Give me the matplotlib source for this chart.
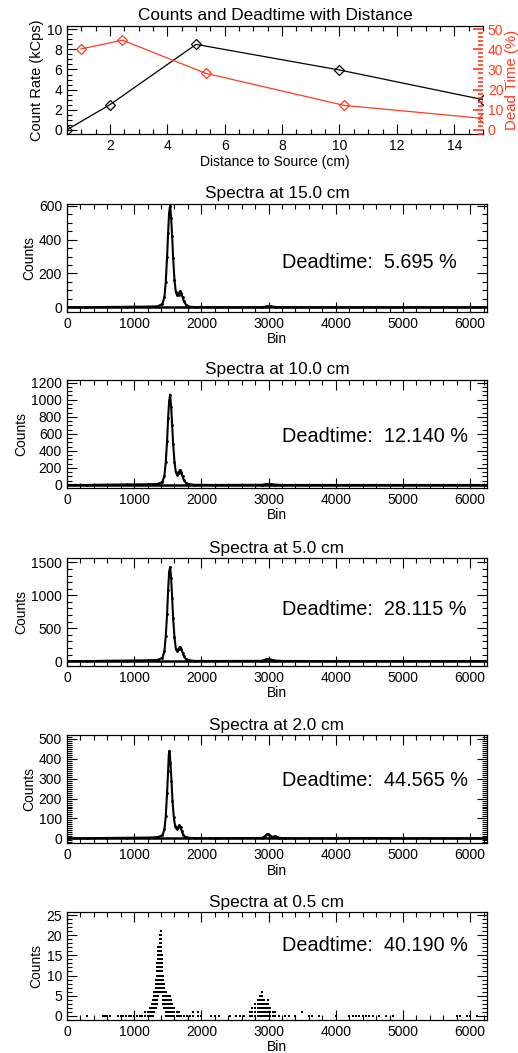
import numpy as np
import matplotlib
matplotlib.use("Agg")
import matplotlib.pyplot as plt
from matplotlib.ticker import MultipleLocator, AutoMinorLocator

plt.rcParams['font.family'] = ['Liberation Sans', 'DejaVu Sans']
plt.rcParams['font.size'] = 10

RED = '#ff3b1f'

# count rate / deadtime vs distance
dist = [0.5, 2.0, 5.0, 10.0, 15.0]
rate_kcps = [0.0, 2.5, 8.5, 5.95, 3.0]
deadtime = [40.190, 44.565, 28.115, 12.140, 5.695]

# spectra (bin, counts)
bins_15 = [0, 300, 600, 900, 1200, 1350, 1420, 1450, 1470, 1490, 1505, 1520, 1535, 1550,
           1565, 1580, 1600, 1620, 1640, 1660, 1680, 1700, 1720, 1740, 1770, 1820, 1900,
           2200, 2900, 2980, 3040, 3100, 3200, 4000, 5000, 6250]
counts_15 = [0, 0, 2, 3, 4, 6, 20, 60, 150, 300, 440, 560, 600, 530,
             420, 290, 160, 90, 70, 75, 95, 85, 60, 35, 15, 4, 1,
             0, 0, 6, 5, 2, 0, 0, 0, 0]

bins_10 = [0, 300, 600, 900, 1200, 1350, 1420, 1450, 1470, 1490, 1505, 1520, 1535, 1550,
           1565, 1580, 1600, 1620, 1640, 1660, 1680, 1700, 1720, 1740, 1770, 1820, 1900,
           2200, 2900, 2980, 3040, 3100, 3200, 4000, 5000, 6250]
counts_10 = [0, 0, 4, 6, 8, 12, 35, 110, 270, 520, 780, 980, 1060, 920,
             700, 480, 270, 150, 120, 140, 175, 150, 100, 55, 25, 8, 2,
             0, 2, 12, 10, 4, 0, 0, 0, 0]

bins_5 = [0, 300, 600, 900, 1200, 1350, 1420, 1450, 1470, 1490, 1505, 1520, 1535, 1550,
          1565, 1580, 1600, 1620, 1640, 1660, 1680, 1700, 1720, 1740, 1770, 1820, 1900,
          2200, 2900, 2960, 3000, 3040, 3100, 3200, 4000, 5000, 6250]
counts_5 = [0, 0, 5, 8, 12, 18, 50, 150, 380, 720, 1080, 1350, 1430, 1260,
            960, 650, 360, 190, 150, 180, 215, 185, 130, 70, 30, 10, 3,
            1, 4, 25, 35, 22, 8, 2, 0, 0, 0]

bins_2 = [0, 300, 600, 900, 1200, 1350, 1420, 1450, 1470, 1490, 1505, 1515, 1525, 1540,
          1555, 1570, 1590, 1610, 1630, 1650, 1670, 1690, 1710, 1730, 1760, 1820, 1900,
          2200, 2900, 2950, 2980, 3010, 3050, 3090, 3120, 3160, 3250, 4000, 4500, 5000, 6250]
counts_2 = [0, 0, 2, 3, 4, 6, 15, 45, 110, 230, 340, 420, 440, 380,
            290, 190, 105, 60, 48, 55, 65, 55, 35, 18, 8, 3, 1,
            0, 2, 12, 22, 18, 8, 10, 8, 3, 0, 0, 2, 0, 0]

# 0.5 cm: sparse integer counts, grouped as (bin, counts seen at that bin)
cols_05 = [
    (300, [0]), (530, [0]), (560, [0]), (600, [0]), (640, [0]), (760, [0]), (800, [0]),
    (840, [0]), (880, [0]), (920, [0]), (960, [0]), (1000, [0]), (1040, [0]), (1080, [0]),
    (1120, [0]), (1160, [0, 1]), (1200, [0, 1]), (1230, [0, 1, 2]), (1260, [0, 1, 2, 3]),
    (1280, [0, 1, 2, 3, 4]), (1300, [1, 2, 3, 4, 5, 6]),
    (1320, [2, 3, 4, 5, 6, 7, 8, 9]),
    (1340, [3, 4, 5, 6, 7, 8, 9, 10, 11, 12, 13]),
    (1360, [5, 6, 7, 8, 9, 10, 11, 12, 13, 14, 15, 16, 17]),
    (1380, [6, 7, 8, 9, 10, 11, 12, 13, 14, 15, 16, 17, 18, 19, 20]),
    (1395, [7, 8, 9, 10, 11, 12, 13, 14, 15, 16, 17, 18, 19, 20, 21]),
    (1410, [6, 7, 8, 9, 10, 11, 12, 13, 14, 15]),
    (1430, [3, 4, 5, 6, 7, 8, 9, 10]),
    (1450, [2, 3, 4, 5, 6, 7, 8]),
    (1470, [0, 1, 2, 3, 4, 5, 6]),
    (1490, [0, 1, 2, 3, 4, 5]), (1510, [0, 1, 2, 3, 4, 5]), (1530, [0, 1, 2, 3, 4, 5]),
    (1550, [0, 1, 2, 3, 4]), (1570, [0, 1, 2, 3]), (1600, [0, 1, 2]), (1630, [0, 1]),
    (1660, [0, 1]), (1700, [0]), (1740, [0]), (1780, [0]), (1830, [0]), (1880, [0, 1]),
    (1950, [0, 1]), (1990, [0]), (2150, [0]), (2200, [0]), (2260, [0]), (2420, [0]),
    (2520, [0]), (2580, [0]), (2640, [0]), (2720, [0, 1]), (2760, [0, 1, 2]),
    (2800, [0, 1, 2, 3]), (2840, [0, 1, 2, 3, 4]), (2870, [0, 1, 2, 3, 4, 5]),
    (2900, [0, 1, 2, 3, 4, 5, 6]), (2930, [0, 1, 2, 3, 4]), (2960, [0, 1, 2, 3]),
    (2990, [0, 1, 2, 3, 4]), (3020, [0, 1, 2]), (3060, [0, 1]), (3100, [0, 1]),
    (3150, [0]), (3250, [0]), (3300, [0]), (3400, [0]), (3500, [1]), (3600, [0]),
    (3650, [0]), (3750, [0]), (4000, [0]), (4200, [0]), (4250, [0]), (4300, [0]),
    (4350, [0]), (4400, [0]), (4450, [0]), (4500, [0]), (4550, [0]), (4650, [0]),
    (4750, [0]), (4850, [0]), (5800, [0]), (5850, [0]), (5950, [0]), (6000, [0]),
    (6100, [0]),
]
bins_05 = [b for b, cs in cols_05 for c in cs]
counts_05 = [c for b, cs in cols_05 for c in cs]

spectra = [
    ('15.0', bins_15, counts_15, '5.695', (-26, 612), 200, 4),
    ('10.0', bins_10, counts_10, '12.140', (-35, 1231), 200, 4),
    ('5.0', bins_5, counts_5, '28.115', (-75, 1566), 500, 5),
    ('2.0', bins_2, counts_2, '44.565', (-25, 517), 100, 10),
    ('0.5', bins_05, counts_05, '40.190', (-1.1, 25.8), 5, 5),
]
text_y = [0.452, 0.475, 0.524, 0.58, 0.687]


def idl_ticks(ax):
    ax.tick_params(which='both', direction='in', top=True, right=True, width=0.8)
    ax.tick_params(which='major', length=7)
    ax.tick_params(which='minor', length=3.5)
    for s in ax.spines.values():
        s.set_linewidth(0.9)


fig = plt.figure(figsize=(5.18, 10.53), dpi=100)
left, width, height = 0.1293, 0.8108, 0.1025

# ---- top panel: count rate and deadtime ----
ax0 = fig.add_axes([left, 0.8723, 0.803, 0.1030])
ax0.plot(dist, rate_kcps, color='black', lw=0.9, marker='D', ms=5, mfc='none', mew=0.9)
ax0.set_xlim(0.5, 15)
ax0.set_ylim(-0.47, 10.33)
ax0.xaxis.set_major_locator(MultipleLocator(2))
ax0.xaxis.set_minor_locator(AutoMinorLocator(4))
ax0.yaxis.set_major_locator(MultipleLocator(2))
ax0.yaxis.set_minor_locator(AutoMinorLocator(4))
idl_ticks(ax0)
ax0.tick_params(which='both', right=False)
ax0.set_xlabel('Distance to Source (cm)', labelpad=1)
ax0.set_ylabel('Count Rate (kCps)', labelpad=2, fontsize=10.5)
ax0.set_title('Counts and Deadtime with Distance', fontsize=12.4, pad=4)
ax0.spines['right'].set_visible(False)

# deadtime is drawn on its own overlay with a 0-15 cm x range
ax0r = fig.add_axes(ax0.get_position(), frameon=False)
ax0r.plot(dist, deadtime, color=RED, lw=0.9, marker='D', ms=5, mfc='none', mew=0.9)
ax0r.set_xlim(0, 15)
ax0r.set_ylim(-2.3, 51.6)
ax0r.xaxis.set_visible(False)
ax0r.yaxis.tick_right()
ax0r.yaxis.set_label_position('right')
ax0r.yaxis.set_major_locator(MultipleLocator(10))
ax0r.yaxis.set_minor_locator(AutoMinorLocator(5))
ax0r.tick_params(which='both', direction='in', colors=RED, width=1.2)
ax0r.tick_params(which='major', length=7)
ax0r.tick_params(which='minor', length=3.5)
ax0r.spines['right'].set_visible(True)
ax0r.spines['right'].set_color(RED)
ax0r.spines['right'].set_linewidth(1.4)
ax0r.set_ylabel('Dead Time (%)', color=RED, labelpad=1, fontsize=10.8)

# ---- spectra ----
bottoms = [0.7040, 0.5366, 0.3675, 0.1991, 0.0313]
for i, (d, bx, cy, dt, ylim, major, nminor) in enumerate(spectra):
    ax = fig.add_axes([left, bottoms[i], width, height])
    if d == '0.5':
        ax.plot(bx, cy, ls='none', marker='s', ms=1.8, color='black', mew=0)
    else:
        ax.plot(bx, cy, color='black', lw=1.5, marker='.', ms=2)
        ax.axhline(0, color='black', lw=1.8)
    ax.set_xlim(0, 6250)
    ax.set_ylim(*ylim)
    ax.xaxis.set_major_locator(MultipleLocator(1000))
    ax.xaxis.set_minor_locator(AutoMinorLocator(5))
    ax.yaxis.set_major_locator(MultipleLocator(major))
    ax.yaxis.set_minor_locator(AutoMinorLocator(nminor))
    idl_ticks(ax)
    ax.set_title(f'Spectra at {d} cm', fontsize=12.4, pad=4)
    ax.set_xlabel('Bin', labelpad=1)
    ax.set_ylabel('Counts', labelpad=2)
    ax.text(0.511, text_y[i], f'Deadtime:  {dt} %', transform=ax.transAxes,
            fontsize=14.3, va='center', ha='left')

fig.savefig('out.png', dpi=100)
